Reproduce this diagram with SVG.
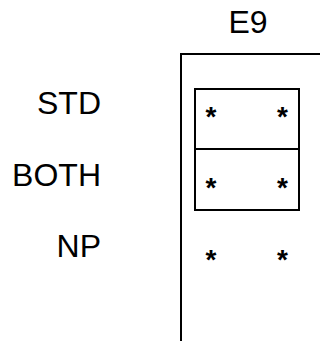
<svg xmlns="http://www.w3.org/2000/svg" width="320" height="341" viewBox="0 0 320 341">
<style>
text{font-family:"Liberation Sans",Arial,sans-serif;font-size:32px;fill:#000}
.lab{text-anchor:end}
.st{text-anchor:middle;font-size:28px;font-weight:bold}
.ln{fill:none;stroke:#000;stroke-width:2}
</style>
<rect width="320" height="341" fill="#fff"/>
<g id="header"><text x="248" y="33" text-anchor="middle">E9</text></g>
<g id="labels">
<text class="lab" x="101" y="114">STD</text>
<text class="lab" x="101" y="186">BOTH</text>
<text class="lab" x="101" y="257">NP</text>
</g>
<g id="connectors">
<path class="ln" d="M181,341 V54 H320"/>
</g>
<g id="box">
<rect class="ln" x="195" y="89" width="104" height="121"/>
<line class="ln" x1="195" y1="149" x2="299" y2="149"/>
</g>
<g id="cells">
<text class="st" x="211" y="125.5">*</text>
<text class="st" x="282.5" y="125.5">*</text>
<text class="st" x="211" y="197">*</text>
<text class="st" x="282.5" y="197">*</text>
<text class="st" x="211" y="269">*</text>
<text class="st" x="282.5" y="269">*</text>
</g>
</svg>
